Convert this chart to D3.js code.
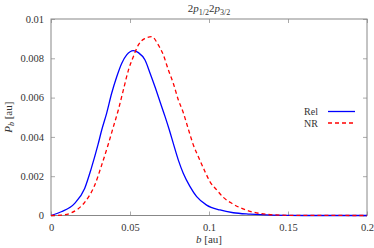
<!DOCTYPE html>
<html>
<head>
<meta charset="utf-8">
<script src="https://cdn.jsdelivr.net/npm/d3@7"></script>
<style>
  body { margin: 0; background: #fff; }
  svg text { font-family: "Liberation Serif", "DejaVu Serif", serif; fill: #333; }
</style>
</head>
<body>
<div id="grafico"></div>
<script>
// Dados
const bRel = [0, 0.0065, 0.015, 0.0213, 0.0255, 0.0297, 0.0321, 0.0352, 0.0384, 0.0416, 0.0448, 0.0479, 0.0521, 0.0553, 0.0595, 0.0627, 0.0658, 0.069, 0.0722, 0.0749, 0.0774, 0.0806, 0.0837, 0.088, 0.0922, 0.0985, 0.107, 0.1154, 0.126, 0.14, 0.16, 0.2];
const pRel = [0, 0.00019, 0.00062, 0.00138, 0.0024, 0.00359, 0.00435, 0.0052, 0.00622, 0.00706, 0.00775, 0.00817, 0.00839, 0.00829, 0.00791, 0.00724, 0.00655, 0.00579, 0.00503, 0.00435, 0.00367, 0.00282, 0.00215, 0.00147, 0.00096, 0.00053, 0.00028, 0.00014, 0.00007, 0.00002, 0, 0];
const bNR = [0, 0.0065, 0.0129, 0.0213, 0.0277, 0.0318, 0.0361, 0.0395, 0.0426, 0.0458, 0.049, 0.0521, 0.0553, 0.0593, 0.0637, 0.0679, 0.0711, 0.0743, 0.0774, 0.0806, 0.0837, 0.0869, 0.0901, 0.0932, 0.0975, 0.1006, 0.1049, 0.109, 0.1144, 0.1196, 0.1249, 0.1365, 0.15, 0.2];
const pNR = [0, 0.00002, 0.00014, 0.00067, 0.00155, 0.0025, 0.00359, 0.00452, 0.00537, 0.00639, 0.0074, 0.00808, 0.00868, 0.009, 0.0091, 0.00868, 0.00817, 0.0074, 0.00673, 0.00588, 0.00524, 0.0044, 0.00359, 0.003, 0.00223, 0.00172, 0.0013, 0.00093, 0.00062, 0.0004, 0.00024, 0.00006, 0.00001, 0];
const xTicks = [0, 0.05, 0.1, 0.15, 0.2];
const yTicks = [0, 0.002, 0.004, 0.006, 0.008, 0.01];
const series = [
  { nome: "Rel", b: bRel, p: pRel, cor: "#0000ff", tracejado: null },
  { nome: "NR", b: bNR, p: pNR, cor: "#ff0000", tracejado: "4,3" }
];

function criarGrafico() {
  const largura = 374, altura = 248;
  const margem = { top: 19, right: 7, bottom: 32.5, left: 51 };
  const w = largura - margem.left - margem.right;
  const h = altura - margem.top - margem.bottom;
  const fonte = '"Liberation Serif", "DejaVu Serif", serif';

  const svg = d3.select("#grafico").append("svg")
    .attr("width", largura).attr("height", altura);
  const g = svg.append("g").attr("transform", `translate(${margem.left},${margem.top})`);

  const x = d3.scaleLinear().domain([0, 0.2]).range([0, w]);
  const y = d3.scaleLinear().domain([0, 0.01]).range([h, 0]);

  const tk = 4;
  const fmtX = d => d === 0 ? "0" : String(+d.toFixed(2));
  const fmtY = d => d === 0 ? "0" : String(+d.toFixed(3));

  // eixos (ticks para dentro, espelhados)
  const ax = g.append("g").attr("transform", `translate(0,${h})`)
    .call(d3.axisBottom(x).tickValues(xTicks).tickSize(-tk).tickPadding(8).tickFormat(fmtX));
  const axTop = g.append("g")
    .call(d3.axisTop(x).tickValues(xTicks).tickSize(-tk).tickFormat(""));
  const ay = g.append("g")
    .call(d3.axisLeft(y).tickValues(yTicks).tickSize(-tk).tickPadding(7).tickFormat(fmtY));
  const ayR = g.append("g").attr("transform", `translate(${w},0)`)
    .call(d3.axisRight(y).tickValues(yTicks).tickSize(-tk).tickFormat(""));

  [ax, axTop, ay, ayR].forEach(a => {
    a.attr("font-family", fonte).attr("font-size", 10.5);
    a.select(".domain").remove();
    a.selectAll(".tick line").attr("stroke", "#aaa");
    a.selectAll("text").attr("fill", "#333");
  });

  g.append("rect").attr("width", w).attr("height", h)
    .attr("fill", "none").attr("stroke", "#888").attr("stroke-width", 1);

  // curvas
  const linha = d3.line().x(d => x(d[0])).y(d => y(d[1])).curve(d3.curveMonotoneX);
  series.forEach(s => {
    g.append("path")
      .datum(s.b.map((b, i) => [b, s.p[i]]))
      .attr("fill", "none").attr("stroke", s.cor).attr("stroke-width", 1.3)
      .attr("stroke-dasharray", s.tracejado)
      .attr("d", linha);
  });

  // legenda
  series.forEach((s, i) => {
    const ly = 111.5 + i * 11.5 - margem.top;
    g.append("text").attr("x", 318 - margem.left).attr("y", ly).attr("dy", "0.35em")
      .attr("text-anchor", "end").style("font-size", "10px").text(s.nome);
    g.append("line").attr("x1", 328 - margem.left).attr("x2", 355 - margem.left)
      .attr("y1", ly).attr("y2", ly)
      .attr("stroke", s.cor).attr("stroke-width", 1.3).attr("stroke-dasharray", s.tracejado);
  });

  // título
  const t = svg.append("text").attr("x", margem.left + w / 2).attr("y", 12)
    .attr("text-anchor", "middle").style("font-size", "11px");
  t.append("tspan").text("2");
  t.append("tspan").style("font-style", "italic").text("p");
  t.append("tspan").attr("dy", 2.5).style("font-size", "8px").text("1/2");
  t.append("tspan").attr("dy", -2.5).text("2");
  t.append("tspan").style("font-style", "italic").text("p");
  t.append("tspan").attr("dy", 2.5).style("font-size", "8px").text("3/2");

  // rótulo x
  const tx = svg.append("text").attr("x", margem.left + w / 2).attr("y", 243)
    .attr("text-anchor", "middle").style("font-size", "11px");
  tx.append("tspan").style("font-style", "italic").text("b");
  tx.append("tspan").text(" [au]");

  // rótulo y
  const ty = svg.append("text")
    .attr("transform", `translate(12,${margem.top + h / 2}) rotate(-90)`)
    .attr("text-anchor", "middle").style("font-size", "11px");
  ty.append("tspan").style("font-style", "italic").text("P");
  ty.append("tspan").attr("dy", 2).style("font-style", "italic").style("font-size", "8px").text("b");
  ty.append("tspan").attr("dy", -2).text(" [au]");
}

criarGrafico();
</script>
</body>
</html>
